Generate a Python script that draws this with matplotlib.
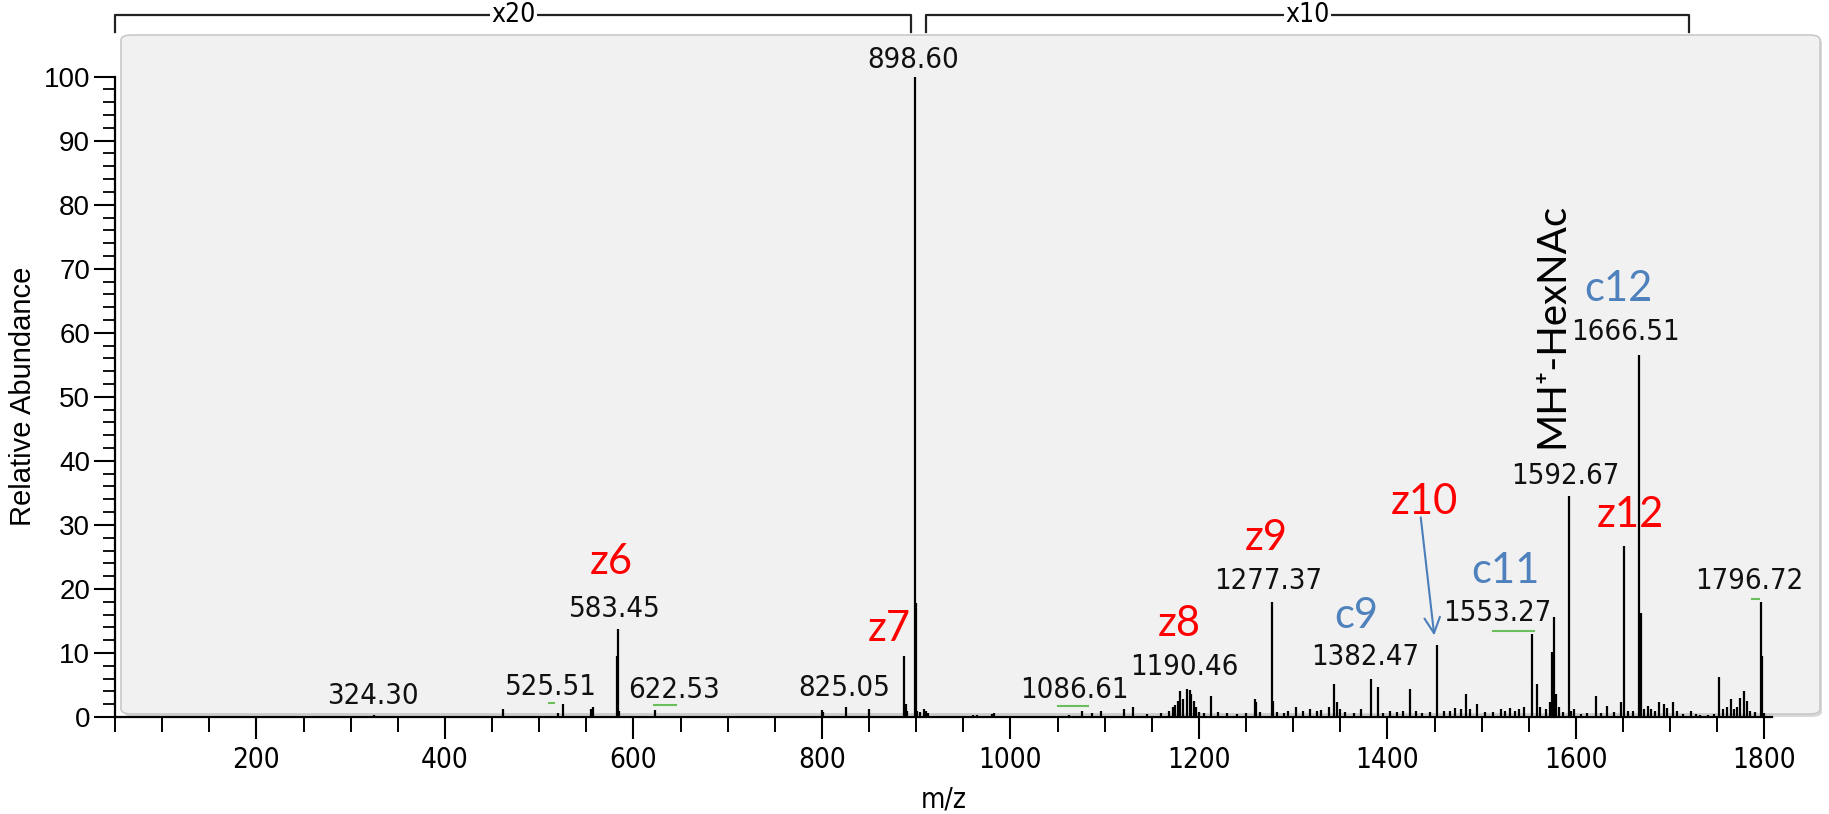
import matplotlib
matplotlib.use("Agg")
import matplotlib.pyplot as plt
from matplotlib.patches import FancyBboxPatch

# ---- spectrum (m/z, relative abundance) ----
mz = [324.3, 462, 520, 525.51, 555, 557, 582.5, 583.45, 584.4, 622.53,
      800, 801, 825.05, 850, 887.5, 889, 890,
      898.6, 899.6, 901, 904, 908, 910, 913, 960, 965, 980, 983,
      1062, 1076, 1086.61, 1096, 1121, 1130, 1145, 1160, 1168,
      1172, 1175, 1178, 1180, 1183, 1187, 1190.46, 1192, 1195, 1197, 1200,
      1205, 1213, 1220, 1230, 1240, 1250, 1259, 1261, 1265,
      1277.37, 1278.5, 1283, 1290, 1295, 1303, 1310, 1318, 1325, 1330,
      1338, 1343.6, 1346.6, 1350, 1355, 1365, 1372, 1382.47, 1390,
      1395, 1403, 1410, 1417, 1424, 1430, 1437, 1445, 1452.6, 1460,
      1466, 1472, 1478, 1483, 1488, 1495.5, 1503, 1512, 1520, 1525,
      1530, 1535, 1540, 1545, 1553.27, 1558.6, 1562, 1568, 1572,
      1574.4, 1576.8, 1579, 1582, 1586, 1592.67, 1595, 1598, 1605,
      1612, 1621, 1627, 1633, 1640, 1648, 1650.5, 1655, 1661,
      1666.51, 1668.6, 1672, 1676, 1680, 1684, 1688, 1693, 1697,
      1702.6, 1707, 1714, 1722, 1727, 1732, 1740, 1746, 1751.5, 1756,
      1760, 1764, 1768, 1771, 1774, 1778, 1781, 1785, 1790, 1796.72,
      1797.7, 1800]
intensity = [0.3, 1.3, 0.6, 2.0, 1.2, 1.6, 9.5, 13.7, 1.0, 1.1,
             1.1, 0.8, 1.6, 1.2, 9.5, 2.0, 1.0,
             100, 17.8, 1.0, 0.8, 1.2, 0.9, 0.6, 0.3, 0.3, 0.5, 0.6,
             0.3, 1.0, 0.6, 1.0, 1.3, 1.5, 0.5, 0.6, 1.0,
             1.5, 1.8, 2.5, 4.0, 2.8, 4.4, 4.2, 3.6, 2.5, 1.5, 0.8,
             0.7, 3.3, 0.8, 0.6, 0.5, 0.7, 2.8, 2.3, 0.8,
             17.9, 2.5, 0.8, 0.6, 0.9, 1.5, 1.0, 1.2, 0.9, 1.1,
             1.5, 5.2, 2.3, 1.2, 0.8, 0.7, 1.3, 5.9, 4.7,
             0.6, 0.9, 0.8, 1.0, 4.4, 1.0, 0.7, 0.8, 11.3, 0.9,
             1.0, 1.4, 1.2, 3.6, 1.2, 2.1, 0.8, 0.8, 1.2, 1.0,
             1.4, 1.0, 1.2, 1.5, 12.9, 5.2, 1.5, 1.3, 2.4,
             10.2, 15.6, 3.6, 1.5, 0.8, 34.5, 1.0, 1.2, 0.5,
             0.6, 3.3, 0.7, 1.7, 0.8, 2.3, 26.7, 0.9, 1.0,
             56.6, 16.3, 1.2, 1.7, 1.3, 0.9, 2.4, 2.1, 1.4,
             2.3, 0.9, 0.4, 0.9, 0.4, 0.3, 0.3, 0.4, 6.3, 1.2,
             1.5, 2.8, 1.3, 1.6, 3.0, 4.1, 2.5, 1.0, 0.8, 17.9,
             9.5, 0.6]

# labelled peak values
peak_labels = ["324.30", "525.51", "583.45", "622.53", "825.05", "898.60",
               "1086.61", "1190.46", "1277.37", "1382.47", "1553.27",
               "1592.67", "1666.51", "1796.72"]

# fragment ion names
ion_names = ["z6", "z7", "z8", "z9", "z10", "z12", "c9", "c11", "c12"]
ion_colors = {"z": "#ff0000", "c": "#4f81bd"}

# magnification ranges shown above the spectrum
zoom_names = ["x20", "x10"]
zoom_ranges = [(50, 895), (910, 1720)]

# ---- layout (where text sits, in data units) ----
peak_label_xy = [(324, 3.3), (512, 4.7), (580, 16.9), (643, 4.2), (824, 4.5),
                 (897, 102.6), (1068, 4.2), (1185, 7.8), (1273.5, 21.2),
                 (1376, 9.3), (1517, 16.2), (1589, 37.7), (1652, 60.1),
                 (1784, 21.2)]
ion_xy = [(576, 24.2), (871, 13.7), (1179, 14.6), (1271, 27.9), (1439, 33.6),
          (1658, 31.5), (1367, 15.7), (1525, 22.8), (1645, 66.8)]
green_marks = [(510, 516, 2.2), (622, 645, 1.8), (1051, 1082, 1.7),
               (1512, 1556, 13.5), (1787, 1794, 18.4)]

COND = dict(family="DejaVu Sans", fontstretch="condensed")

W, H = 1829, 814
fig = plt.figure(figsize=(W / 100, H / 100), dpi=100)

# grey rounded plot panel
shadow = FancyBboxPatch((124 / W, 1 - 717 / H), (1822 - 124) / W, (717 - 38) / H,
                        boxstyle="round,pad=0,rounding_size=0.006",
                        transform=fig.transFigure, facecolor="#d8d8d8",
                        edgecolor="none", zorder=0)
panel = FancyBboxPatch((121 / W, 1 - 714 / H), (1820 - 121) / W, (714 - 35) / H,
                       boxstyle="round,pad=0,rounding_size=0.006",
                       transform=fig.transFigure, facecolor="#f1f1f1",
                       edgecolor="#c9c9c9", linewidth=1.2, zorder=0)
fig.patches.extend([shadow, panel])

ax = fig.add_axes([115 / W, 1 - 717 / H, (1772 - 115) / W, (717 - 35) / H])
ax.set_zorder(1)
ax.patch.set_visible(False)
ax.set_xlim(50, 1808)
ax.set_ylim(0, 106.5)

ax.vlines(mz, 0, intensity, color="black", linewidth=1.6)

for s in ["top", "right"]:
    ax.spines[s].set_visible(False)
ax.spines["left"].set_bounds(0, 100)
for s in ["left", "bottom"]:
    ax.spines[s].set_linewidth(1.6)

ax.set_xticks(range(200, 1801, 200))
ax.set_xticks(range(50, 1801, 50), minor=True)
ax.set_yticks(range(0, 101, 10))
ax.set_yticks(range(0, 101, 2), minor=True)
ax.tick_params(axis="x", which="major", direction="out", length=16, width=1.5,
               labelsize=20, pad=5)
ax.tick_params(axis="x", which="minor", direction="out", length=11, width=1.4)
ax.tick_params(axis="y", which="major", direction="out", length=15, width=1.5,
               labelsize=20, pad=3)
ax.tick_params(axis="y", which="minor", direction="out", length=9, width=1.3)
for lab in ax.get_xticklabels():
    lab.set_family("DejaVu Sans")
    lab.set_fontstretch("condensed")
for lab in ax.get_yticklabels():
    lab.set_family("Liberation Sans")

ax.set_xlabel("m/z", fontsize=20, labelpad=8, **COND)
ax.set_ylabel("Relative Abundance", fontsize=21, family="Liberation Sans")
ax.yaxis.set_label_coords(-0.047, 50 / 106.5)

# peak value labels
for txt, (x, y) in zip(peak_labels, peak_label_xy):
    ax.text(x, y, txt, ha="center", va="center", fontsize=21,
            color="#111111", **COND)

for x0, x1, y in green_marks:
    ax.plot([x0, x1], [y, y], color="#6abf5a", linewidth=1.5)

# ion labels
for name, (x, y) in zip(ion_names, ion_xy):
    ax.text(x, y, name, ha="center", va="center", fontsize=30,
            family="Lato", color=ion_colors[name[0]])

ax.annotate("", xy=(1450, 12.3), xytext=(1435, 31.6),
            arrowprops=dict(arrowstyle="->", color="#4a7ebb", lw=1.5,
                            mutation_scale=28))

ax.text(1574, 42, "MH\u207a-HexNAc", rotation=90, ha="center", va="bottom",
        fontsize=29, family=["Lato", "DejaVu Sans"], color="black")

# magnification brackets above the panel
for name, (x0, x1) in zip(zoom_names, zoom_ranges):
    ax.plot([x0, x0, x1, x1], [107.0, 109.6, 109.6, 107.0], color="#222222",
            linewidth=1.6, clip_on=False)
    ax.text((x0 + x1) / 2, 109.6, name, ha="center", va="center", fontsize=19,
            clip_on=False, bbox=dict(facecolor="white", edgecolor="none", pad=1),
            **COND)

fig.savefig("out.png", dpi=100)
